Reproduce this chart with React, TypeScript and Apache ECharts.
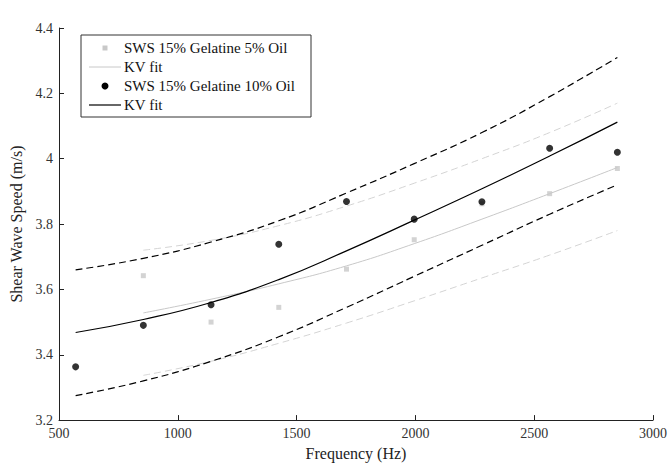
import React, { useEffect, useRef } from "react";
import * as echarts from "echarts";

const freqBlack = [570, 855, 1140, 1425, 1710, 1995, 2280, 2565, 2850];
const swsBlack = [3.363, 3.49, 3.553, 3.738, 3.869, 3.815, 3.868, 4.032, 4.02];
const fitBlack = [3.468, 3.508, 3.56, 3.63, 3.718, 3.812, 3.908, 4.008, 4.112];
const upperBlack = [3.66, 3.695, 3.745, 3.81, 3.895, 3.985, 4.08, 4.19, 4.31];
const lowerBlack = [3.275, 3.32, 3.38, 3.455, 3.545, 3.64, 3.735, 3.83, 3.92];

const freqGray = [855, 1140, 1425, 1710, 1995, 2280, 2565, 2850];
const swsGray = [3.642, 3.5, 3.545, 3.662, 3.752, 3.862, 3.893, 3.97];
const fitGray = [3.528, 3.57, 3.617, 3.672, 3.74, 3.815, 3.893, 3.973];
const upperGray = [3.72, 3.75, 3.795, 3.855, 3.925, 4.0, 4.08, 4.17];
const lowerGray = [3.337, 3.38, 3.435, 3.497, 3.565, 3.635, 3.705, 3.78];

const legendLabels = [
  "SWS 15% Gelatine 5% Oil",
  "KV fit",
  "SWS 15% Gelatine 10% Oil",
  "KV fit",
];

const xTicks = { min: 500, max: 3000, interval: 500 };
const yTicks = { min: 3.2, max: 4.4, interval: 0.2 };

const FONT = "Liberation Serif";
const GRAY = "#c8c8c8";

const zip = (xs: number[], ys: number[]) => xs.map((x, i) => [x, ys[i]]);

export default function App() {
  const ref = useRef<HTMLDivElement>(null);
  useEffect(() => {
    if (!ref.current) return;
    const chart = echarts.init(ref.current, undefined, { renderer: "svg" });
    const lineSeries = (
      xs: number[],
      ys: number[],
      color: string,
      width: number,
      dashed: boolean
    ) => ({
      type: "line",
      data: zip(xs, ys),
      smooth: true,
      showSymbol: false,
      symbol: "none",
      silent: true,
      lineStyle: {
        color,
        width,
        type: dashed ? [7, 4] : "solid",
      },
    });
    const lx = 89;
    const rowY = [48, 67, 86, 105];
    chart.setOption({
      animation: false,
      backgroundColor: "#ffffff",
      grid: { left: 59, right: 17, top: 28, bottom: 41 },
      xAxis: {
        type: "value",
        min: xTicks.min,
        max: xTicks.max,
        interval: xTicks.interval,
        name: "Frequency (Hz)",
        nameLocation: "middle",
        nameGap: 21,
        nameTextStyle: { fontFamily: FONT, fontSize: 16, color: "#222" },
        axisLine: { lineStyle: { color: "#222", width: 1 } },
        axisTick: { inside: true, length: 5, lineStyle: { color: "#222" } },
        axisLabel: {
          fontFamily: FONT,
          fontSize: 14,
          color: "#333",
          margin: 6,
          formatter: (v: number) => String(v),
        },
        splitLine: { show: false },
      },
      yAxis: {
        type: "value",
        min: yTicks.min,
        max: yTicks.max,
        interval: yTicks.interval,
        name: "Shear Wave Speed (m/s)",
        nameLocation: "middle",
        nameGap: 35,
        nameTextStyle: { fontFamily: FONT, fontSize: 16, color: "#222" },
        axisLine: { show: true, lineStyle: { color: "#222", width: 1 } },
        axisTick: { show: true, inside: true, length: 5, lineStyle: { color: "#222" } },
        axisLabel: {
          fontFamily: FONT,
          fontSize: 14,
          color: "#333",
          margin: 6,
          formatter: (v: number) => String(Math.round(v * 10) / 10),
        },
        splitLine: { show: false },
      },
      series: [
        lineSeries(freqGray, upperGray, "#d4d4d4", 1, true),
        lineSeries(freqGray, lowerGray, "#d4d4d4", 1, true),
        lineSeries(freqGray, fitGray, GRAY, 1, false),
        lineSeries(freqBlack, upperBlack, "#000", 1.2, true),
        lineSeries(freqBlack, lowerBlack, "#000", 1.2, true),
        lineSeries(freqBlack, fitBlack, "#000", 1.2, false),
        {
          type: "scatter",
          data: zip(freqGray, swsGray),
          symbol: "rect",
          symbolSize: 5,
          itemStyle: { color: GRAY },
          silent: true,
        },
        {
          type: "scatter",
          data: zip(freqBlack, swsBlack),
          symbol: "circle",
          symbolSize: 7,
          itemStyle: { color: "#000" },
          silent: true,
        },
      ],
      graphic: [
        {
          type: "rect",
          shape: { x: 81, y: 35, width: 230, height: 82 },
          style: { fill: "#fff", stroke: "#333", lineWidth: 1 },
          z: 100,
        },
        {
          type: "rect",
          shape: { x: 102.5, y: rowY[0] - 2.5, width: 5, height: 5 },
          style: { fill: GRAY },
          z: 101,
        },
        {
          type: "line",
          shape: { x1: lx, y1: rowY[1], x2: 121, y2: rowY[1] },
          style: { stroke: GRAY, lineWidth: 1 },
          z: 101,
        },
        {
          type: "circle",
          shape: { cx: 105, cy: rowY[2], r: 3.5 },
          style: { fill: "#000" },
          z: 101,
        },
        {
          type: "line",
          shape: { x1: lx, y1: rowY[3], x2: 121, y2: rowY[3] },
          style: { stroke: "#000", lineWidth: 1.2 },
          z: 101,
        },
        ...legendLabels.map((t, i) => ({
          type: "text",
          x: 124,
          y: rowY[i],
          z: 101,
          style: {
            text: t,
            fontFamily: FONT,
            fontSize: 15,
            fill: "#111",
            verticalAlign: "middle",
            align: "left",
          },
        })),
      ],
    });
    return () => chart.dispose();
  }, []);
  return (
    <div
      ref={ref}
      style={{ position: "absolute", left: 0, top: 0, width: 670, height: 466 }}
    />
  );
}
